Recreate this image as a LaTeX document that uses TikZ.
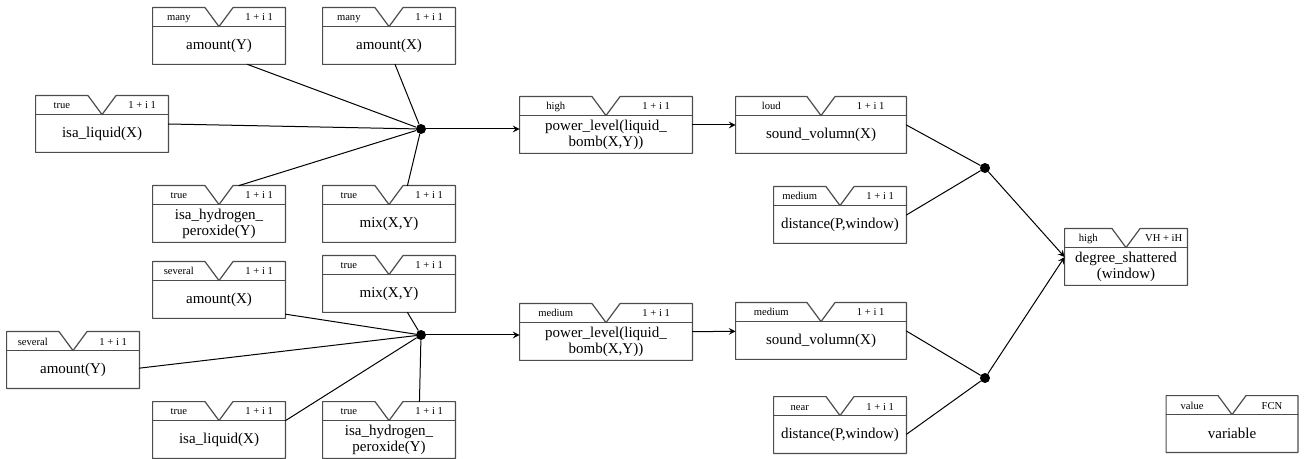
\documentclass[tikz,border=0pt]{standalone}
\usepackage{fontspec}
\setmainfont{Liberation Serif}
\newfontfamily\fcnfont{Liberation Serif}
\usetikzlibrary{calc}

% #1 name, #2 centre x, #3 top y, #4 width, #5 value, #6 fcn, #7 variable
\newcommand{\fcnbox}[7]{%
  \node[fcnframe, minimum width=#4*0.5pt] (#1) at (#2,#3+28) {};
  \draw[fcnline] (#1.north west) -- ([xshift=-7pt]#1.north) -- ([yshift=-9.5pt]#1.north)
    -- ([xshift=7pt]#1.north) -- (#1.north east) -- (#1.south east) -- (#1.south west) -- cycle;
  \draw[fcnline] ([yshift=-9.5pt]#1.north west) -- ([yshift=-9.5pt]#1.north east);
  \node[fcnhead, yshift=-6.7pt] (#1-v) at ($(#1.north west)!.5!([xshift=-7pt]#1.north)$) {#5};
  \node[fcnhead, yshift=-6.7pt] (#1-f) at ($([xshift=7pt]#1.north)!.5!(#1.north east)$) {#6};
  \node[fcntext, yshift=-4.75pt] (#1-t) at (#1.center) {#7};
}

\begin{document}
\begin{tikzpicture}[x=0.5pt,y=-0.5pt,line join=round,line cap=round,>=stealth,
  fcnframe/.style={rectangle,draw=none,inner sep=0pt,minimum height=28pt},
  fcnline/.style={draw=black!70,line width=0.6pt},
  fcnhead/.style={font=\fcnfont\fontsize{5.3}{6}\selectfont,inner sep=0pt,anchor=base},
  fcntext/.style={font=\fcnfont\fontsize{7.5}{8}\selectfont,inner sep=0pt,align=center},
  jdot/.style={circle,fill,inner sep=0pt,minimum size=5pt},
  link/.style={line width=0.5pt}]
\useasboundingbox (0,0) rectangle (1305,459);

% upper rule
\fcnbox{amtYa}{219}{8}{132}{many}{1 + i 1}{amount(Y)}
\fcnbox{amtXa}{389}{8}{132}{many}{1 + i 1}{amount(X)}
\fcnbox{liqa}{102}{96}{132}{true}{1 + i 1}{isa\_liquid(X)}
\fcnbox{hpa}{219}{186}{132}{true}{1 + i 1}{isa\_hydrogen\_\\peroxide(Y)}
\fcnbox{mixa}{389}{186}{132}{true}{1 + i 1}{mix(X,Y)}
\fcnbox{powa}{606}{97}{172}{high}{1 + i 1}{power\_level(liquid\_\\bomb(X,Y))}
\fcnbox{sounda}{821}{97}{170}{loud}{1 + i 1}{sound\_volumn(X)}
\fcnbox{dista}{840}{187}{132}{medium}{1 + i 1}{distance(P,window)}
\node[jdot] (dotA) at (421,129) {};
\node[jdot] (dotB) at (985,168) {};

% lower rule
\fcnbox{amtXb}{219}{262}{132}{several}{1 + i 1}{amount(X)}
\fcnbox{mixb}{389}{256}{132}{true}{1 + i 1}{mix(X,Y)}
\fcnbox{amtYb}{73}{332}{132}{several}{1 + i 1}{amount(Y)}
\fcnbox{liqb}{219}{402}{132}{true}{1 + i 1}{isa\_liquid(X)}
\fcnbox{hpb}{389}{402}{132}{true}{1 + i 1}{isa\_hydrogen\_\\peroxide(Y)}
\fcnbox{powb}{606}{304}{172}{medium}{1 + i 1}{power\_level(liquid\_\\bomb(X,Y))}
\fcnbox{soundb}{821}{303}{170}{medium}{1 + i 1}{sound\_volumn(X)}
\fcnbox{distb}{840}{397}{132}{near}{1 + i 1}{distance(P,window)}
\node[jdot] (dotC) at (421,335) {};
\node[jdot] (dotD) at (985,378) {};

\fcnbox{deg}{1126}{229}{122}{high}{VH + iH}{degree\_shattered\\(window)}
\fcnbox{legend}{1232}{396}{131}{value}{FCN}{variable}

\draw[link] (amtYa.-45)--(dotA) (amtXa.-78)--(dotA) (liqa.east)--(dotA)
  (hpa.55)--(dotA) (mixa.57)--(dotA);
\draw[link,->] (dotA)--(dotA -| powa.west);
\draw[link,->] (powa)--(sounda);
\draw[link] (sounda.east)--(dotB) (dista.east)--(dotB);
\draw[link,->] (dotB)--(deg.west);

\draw[link] (amtXb.-20)--(dotC) (mixb.-57)--(dotC) (amtYb.-7)--(dotC)
  (liqb.8)--(dotC) (hpb.43)--(dotC);
\draw[link,->] (dotC)--(dotC -| powb.west);
\draw[link,->] (powb)--(soundb);
\draw[link] (soundb.east)--(dotD) (distb.-8)--(dotD);
\draw[link,->] (dotD)--(deg.west);
\end{tikzpicture}
\end{document}
